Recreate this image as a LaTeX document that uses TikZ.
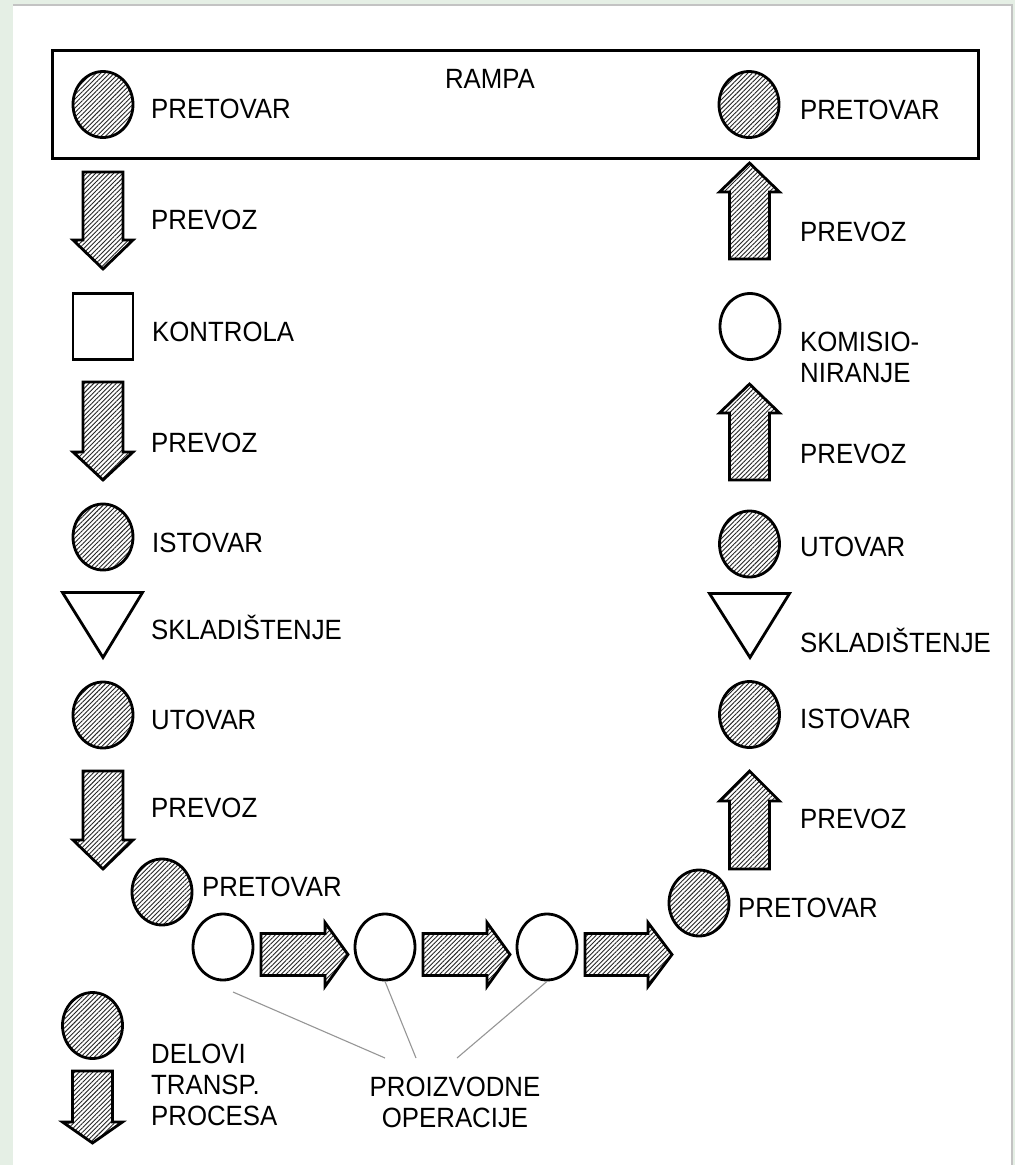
\documentclass[tikz,border=0pt]{standalone}
\usepackage{fontspec}
\setmainfont{Liberation Sans}
\usetikzlibrary{shapes.geometric,patterns.meta}
\definecolor{bggreen}{RGB}{229,239,229}
\definecolor{edgegray}{RGB}{195,195,195}
\definecolor{leadgray}{RGB}{150,150,150}
\tikzset{
  hatch/.style={draw=black, line width=2.8pt, line join=miter,
    pattern={Lines[angle=45,distance=3.2pt,line width=0.9pt]}, pattern color=black!85},
  plain/.style={draw=black, line width=2.8pt, fill=white},
  opnode/.style={ellipse, plain, minimum width=60pt, minimum height=66pt, inner sep=0pt},
  hopnode/.style={ellipse, hatch, minimum width=60pt, minimum height=66pt, inner sep=0pt},
  ctrlnode/.style={rectangle, plain, minimum width=60pt, minimum height=66pt, inner sep=0pt},
  lbl/.style={font=\fontsize{25.8}{28.5}\selectfont, anchor=base west, inner sep=0pt,
    yscale=1.08, transform shape, align=left},
  lead/.style={draw=leadgray, line width=1.1pt}
}
% vertical arrow: cx, tail y, head-base y, tip y
\newcommand\vertarr[4]{%
  \draw[hatch] (#1-20,#2) -- (#1+20,#2) -- (#1+20,#3) -- (#1+30,#3) -- (#1,#4)
    -- (#1-30,#3) -- (#1-20,#3) -- cycle;}
% horizontal arrow: cy, tail x, head-base x, tip x
\newcommand\horarr[4]{%
  \draw[hatch] (#2,#1-21) -- (#3,#1-21) -- (#3,#1-32) -- (#4,#1) -- (#3,#1+32)
    -- (#3,#1+21) -- (#2,#1+21) -- cycle;}
\begin{document}
\begin{tikzpicture}[x=1pt,y=-1pt]
\useasboundingbox (0,0) rectangle (1015,1165);
\fill[bggreen] (0,0) rectangle (1015,1165);
\fill[white] (13,5) rectangle (1012,1165);
\draw[edgegray, line width=1.2pt] (13,5) -- (1012,5) -- (1012,1165);

% RAMPA frame
\node[draw=black, line width=2.8pt, rectangle, inner sep=0pt, minimum width=926pt, minimum height=108pt]
  (rampa) at (515.5,104.5) {};
\node[lbl, anchor=base] (trampa) at (490,88) {RAMPA};

% left column
\node[hopnode] (lpret) at (103,104.5) {};
\node[lbl] (tlpret) at (151,118) {PRETOVAR};
\vertarr{103}{172}{240}{269}
\node[lbl] (tlprev1) at (151,229) {PREVOZ};
\node[ctrlnode] (kontrola) at (103,326.5) {};
\node[lbl] (tkontrola) at (152,341) {KONTROLA};
\vertarr{103}{382}{452}{480}
\node[lbl] (tlprev2) at (151,452) {PREVOZ};
\node[hopnode] (listov) at (103,537) {};
\node[lbl] (tlistov) at (152,552) {ISTOVAR};
\draw[plain, fill=white] (62.5,592.5) -- (142.5,592.5) -- (103,657.5) -- cycle;
\coordinate (lskl) at (103,592.5);
\node[lbl] (tlskl) at (151,639) {SKLADIŠTENJE};
\node[hopnode] (lutov) at (103,715) {};
\node[lbl] (tlutov) at (151,729) {UTOVAR};
\vertarr{103}{771}{840}{869}
\node[lbl] (tlprev3) at (151,817) {PREVOZ};
\node[hopnode] (bpretl) at (162,892) {};
\node[lbl] (tbpretl) at (202,896) {PRETOVAR};

% production operations
\node[opnode] (op1) at (223,947) {};
\horarr{954.5}{261}{325}{348}
\node[opnode] (op2) at (385,947) {};
\horarr{954.5}{423}{487}{510}
\node[opnode] (op3) at (547,947) {};
\horarr{954.5}{585}{648}{672}

% right column
\node[hopnode] (bpretr) at (699,903) {};
\node[lbl] (tbpretr) at (738,917) {PRETOVAR};
\vertarr{749.5}{869}{801}{771}
\node[lbl] (trprev3) at (800,828) {PREVOZ};
\node[hopnode] (ristov) at (749.5,714.5) {};
\node[lbl] (tristov) at (800,728) {ISTOVAR};
\draw[plain, fill=white] (709.5,593.5) -- (789.5,593.5) -- (750,657.5) -- cycle;
\coordinate (rskl) at (750,593.5);
\node[lbl] (trskl) at (800,652) {SKLADIŠTENJE};
\node[hopnode] (rutov) at (749.5,544) {};
\node[lbl] (trutov) at (800,556) {UTOVAR};
\vertarr{749.5}{480}{413}{384}
\node[lbl] (trprev2) at (800,463) {PREVOZ};
\node[opnode] (komis) at (750,326.5) {};
\node[lbl] (tkomis) at (800,382) {KOMISIO-\\NIRANJE};
\vertarr{749.5}{259}{192}{163}
\node[lbl] (trprev1) at (800,241) {PREVOZ};
\node[hopnode] (rpret) at (749,104.5) {};
\node[lbl] (trpret) at (800,119) {PRETOVAR};

% legend
\node[hopnode] (leg) at (92.5,1025.5) {};
\vertarr{92.5}{1071}{1122}{1143}
\node[lbl] (tleg) at (151,1125) {DELOVI\\TRANSP.\\PROCESA};

% leader lines
\node[lbl, anchor=base, align=center] (tproiz) at (455,1127) {PROIZVODNE\\OPERACIJE};
\coordinate (l0) at (233,992);
\coordinate (e1) at (385,1058);
\coordinate (e2) at (416,1058);
\coordinate (e3) at (457,1058);
\draw[lead] (l0) -- (e1);
\draw[lead] (op2.south) -- (e2);
\draw[lead] (op3.south) -- (e3);
\end{tikzpicture}
\end{document}
